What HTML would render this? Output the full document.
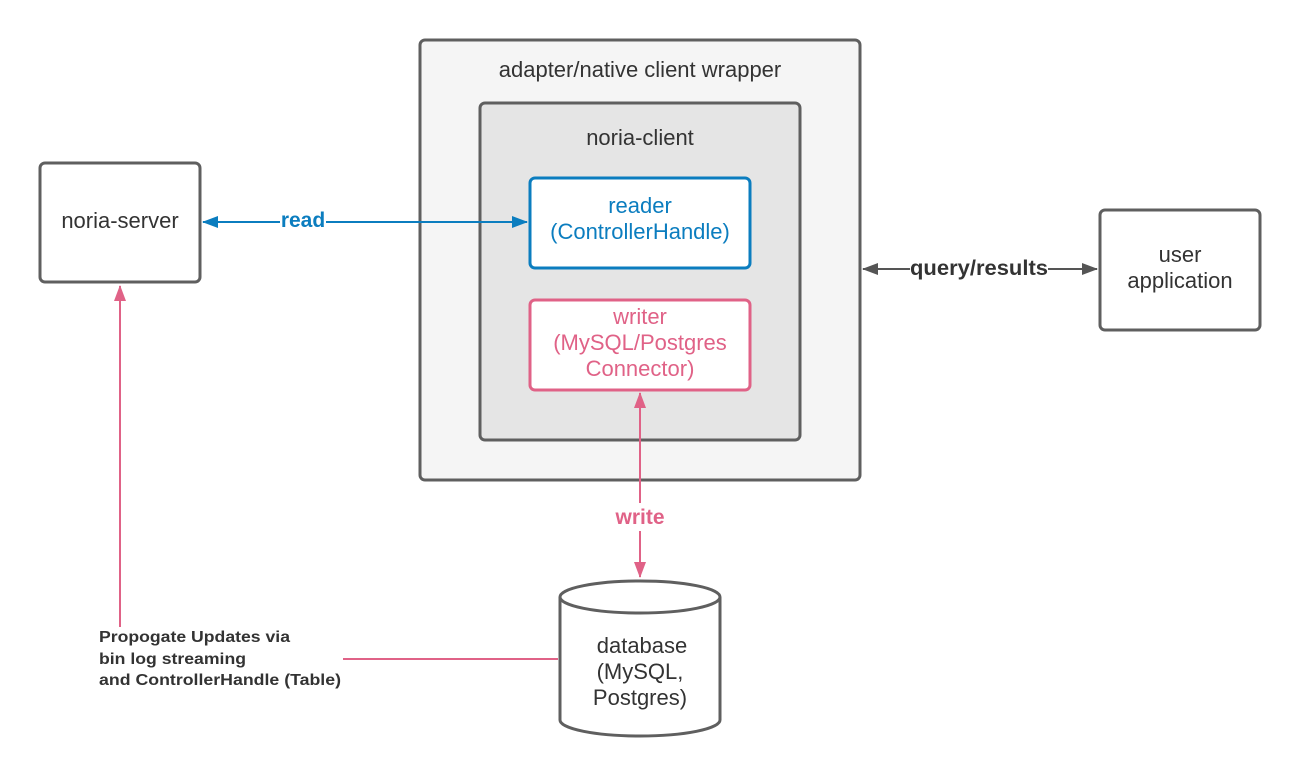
<!DOCTYPE html>
<html><head><style>
html,body{margin:0;padding:0;background:#fff;}
svg{display:block;font-family:"Liberation Sans",Arial,sans-serif;}
</style></head><body>
<svg width="1300" height="780" viewBox="0 0 1300 780" xmlns="http://www.w3.org/2000/svg">
<defs>
<marker id="ab" markerWidth="16" markerHeight="12" refX="15" refY="6" orient="auto-start-reverse" markerUnits="userSpaceOnUse"><path d="M0,0 L16,6 L0,12 z" fill="#0b7dbf"/></marker>
<marker id="ap" markerWidth="16" markerHeight="12" refX="15" refY="6" orient="auto-start-reverse" markerUnits="userSpaceOnUse"><path d="M0,0 L16,6 L0,12 z" fill="#e06287"/></marker>
<marker id="ag" markerWidth="16" markerHeight="12" refX="15" refY="6" orient="auto-start-reverse" markerUnits="userSpaceOnUse"><path d="M0,0 L16,6 L0,12 z" fill="#555"/></marker>
</defs>
<rect x="420" y="40" width="440" height="440" rx="5" fill="#f5f5f5" stroke="#5f5f5f" stroke-width="3"/>
<text x="640" y="77" font-size="22" fill="#333" text-anchor="middle">adapter/native client wrapper</text>
<rect x="480" y="103" width="320" height="337" rx="5" fill="#e5e5e5" stroke="#5f5f5f" stroke-width="3"/>
<text x="640" y="145" font-size="22" fill="#333" text-anchor="middle">noria-client</text>
<rect x="530" y="178" width="220" height="90" rx="5" fill="#fff" stroke="#0b7dbf" stroke-width="3"/>
<text x="640" y="213" font-size="22" fill="#0b7dbf" text-anchor="middle">reader</text>
<text x="640" y="239" font-size="22" fill="#0b7dbf" text-anchor="middle">(ControllerHandle)</text>
<rect x="530" y="300" width="220" height="90" rx="5" fill="#fff" stroke="#e06287" stroke-width="3"/>
<text x="640" y="324" font-size="22" fill="#e06287" text-anchor="middle">writer</text>
<text x="640" y="350" font-size="22" fill="#e06287" text-anchor="middle">(MySQL/Postgres</text>
<text x="640" y="376" font-size="22" fill="#e06287" text-anchor="middle">Connector)</text>
<rect x="40" y="163" width="160" height="119" rx="5" fill="#fff" stroke="#5f5f5f" stroke-width="3"/>
<text x="120" y="228" font-size="22" fill="#333" text-anchor="middle">noria-server</text>
<rect x="1100" y="210" width="160" height="120" rx="5" fill="#fff" stroke="#5f5f5f" stroke-width="3"/>
<text x="1180" y="262" font-size="22" fill="#333" text-anchor="middle">user</text>
<text x="1180" y="288" font-size="22" fill="#333" text-anchor="middle">application</text>
<line x1="203" y1="222" x2="527" y2="222" stroke="#0b7dbf" stroke-width="2" marker-start="url(#ab)" marker-end="url(#ab)"/>
<rect x="280" y="208" width="46" height="26" fill="#fff"/>
<text x="303" y="227" font-size="21" font-weight="bold" fill="#0b7dbf" text-anchor="middle">read</text>
<line x1="863" y1="269" x2="1097" y2="269" stroke="#555" stroke-width="2" marker-start="url(#ag)" marker-end="url(#ag)"/>
<rect x="910" y="255" width="138" height="26" fill="#fff"/>
<text x="979" y="275" font-size="21" font-weight="bold" fill="#333" text-anchor="middle" textLength="138" lengthAdjust="spacingAndGlyphs">query/results</text>
<line x1="640" y1="393" x2="640" y2="577" stroke="#e06287" stroke-width="2" marker-start="url(#ap)" marker-end="url(#ap)"/>
<rect x="612" y="503" width="56" height="28" fill="#fff"/>
<text x="640" y="524" font-size="21" font-weight="bold" fill="#e06287" text-anchor="middle">write</text>
<path d="M560,597 L560,720 A80,16 0 0 0 720,720 L720,597" fill="#fff" stroke="#5f5f5f" stroke-width="3"/>
<ellipse cx="640" cy="597" rx="80" ry="16" fill="#fff" stroke="#5f5f5f" stroke-width="3"/>
<text x="642" y="653" font-size="22" fill="#333" text-anchor="middle">database</text>
<text x="640" y="679" font-size="22" fill="#333" text-anchor="middle">(MySQL,</text>
<text x="640" y="705" font-size="22" fill="#333" text-anchor="middle">Postgres)</text>
<line x1="120" y1="627" x2="120" y2="286" stroke="#e06287" stroke-width="2" marker-end="url(#ap)"/>
<line x1="343" y1="659" x2="558" y2="659" stroke="#e06287" stroke-width="2"/>
<text x="99" y="642" font-size="16" font-weight="bold" fill="#333" textLength="191" lengthAdjust="spacingAndGlyphs">Propogate Updates via</text>
<text x="99" y="664" font-size="16" font-weight="bold" fill="#333" textLength="147" lengthAdjust="spacingAndGlyphs">bin log streaming</text>
<text x="99" y="685" font-size="16" font-weight="bold" fill="#333" textLength="242" lengthAdjust="spacingAndGlyphs">and ControllerHandle (Table)</text>
</svg>
</body></html>
